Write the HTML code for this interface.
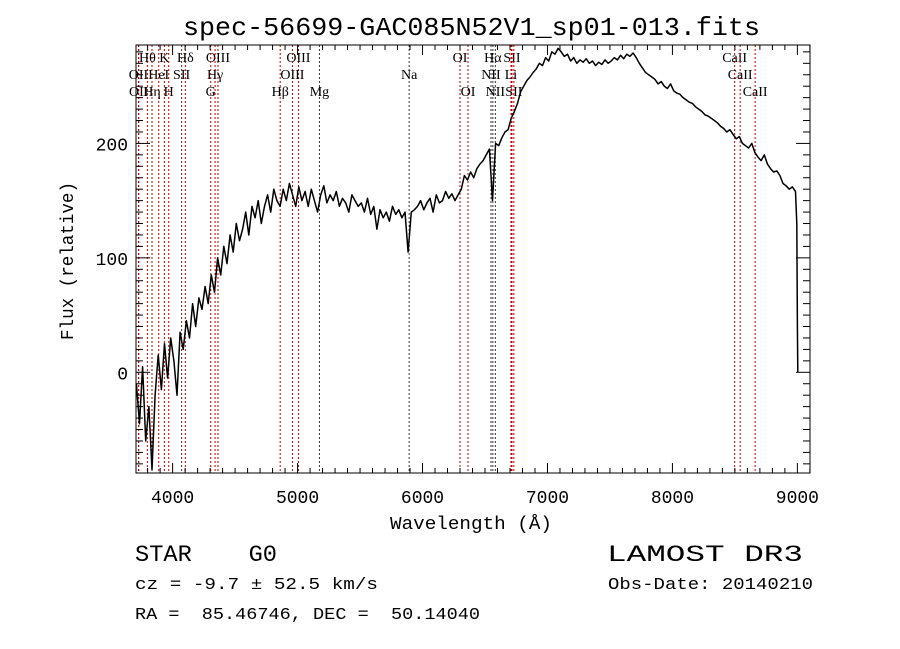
<!DOCTYPE html>
<html><head><meta charset="utf-8"><style>
html,body{margin:0;padding:0;background:#fff;}
svg{display:block;}
text{fill:#000;white-space:pre;}
</style></head><body>
<svg id="chart" width="900" height="649" viewBox="0 0 900 649" xmlns="http://www.w3.org/2000/svg" xml:space="preserve">
<rect x="0" y="0" width="900" height="649" fill="#fff"/>
<text x="183" y="35" font-family="Liberation Mono, monospace" font-size="26" textLength="577" lengthAdjust="spacingAndGlyphs">spec-56699-GAC085N52V1_sp01-013.fits</text>
<g id="lines"></g>
<g id="plot"></g>
<g id="axes"></g>
<text x="390" y="529" font-family="Liberation Mono, monospace" font-size="18" textLength="162" lengthAdjust="spacingAndGlyphs">Wavelength (Å)</text>
<text transform="translate(73,340) rotate(-90)" font-family="Liberation Mono, monospace" font-size="18" textLength="158" lengthAdjust="spacingAndGlyphs">Flux (relative)</text>
<text x="135" y="561" font-family="Liberation Mono, monospace" font-size="23" textLength="142" lengthAdjust="spacingAndGlyphs">STAR    G0</text>
<text x="607" y="561" font-family="Liberation Mono, monospace" font-size="23" textLength="196" lengthAdjust="spacingAndGlyphs">LAMOST DR3</text>
<text x="135" y="589" font-family="Liberation Mono, monospace" font-size="17" textLength="243" lengthAdjust="spacingAndGlyphs">cz = -9.7 ± 52.5 km/s</text>
<text x="608" y="589" font-family="Liberation Mono, monospace" font-size="17" textLength="205" lengthAdjust="spacingAndGlyphs">Obs-Date: 20140210</text>
<text x="135" y="619" font-family="Liberation Mono, monospace" font-size="17" textLength="345" lengthAdjust="spacingAndGlyphs">RA =  85.46746, DEC =  50.14040</text>
</svg>
<script>
// ---- data ----
const waveStart = 3710;
const waveStep = 25;
const flux = [
-10,-45,5,-60,-30,-85,-20,15,
-15,25,-5,30,10,-20,35,20,
45,30,60,40,65,55,75,60,
85,70,100,85,110,95,120,105,
130,115,125,140,120,145,135,150,
130,145,155,140,160,150,145,160,
150,165,155,145,162,150,158,145,
160,150,140,155,163,148,155,150,
158,145,152,148,140,155,150,145,
148,140,152,138,145,125,142,135,
140,132,145,138,142,135,140,105,
140,142,145,150,142,148,152,140,
155,148,150,158,152,156,150,155,
160,172,168,175,170,178,182,185,
190,195,150,200,198,205,210,212,
222,228,235,245,250,255,258,262,
265,270,268,275,272,280,278,283,
280,276,278,272,275,270,273,271,
274,270,272,268,271,269,273,270,
272,275,273,277,274,278,276,279,
275,270,266,262,260,258,256,252,
254,250,248,252,246,244,243,240,
238,236,235,232,230,228,225,224,
222,220,218,215,213,210,212,208,
204,206,200,198,196,200,192,188,
185,190,182,178,175,176,172,165,
163,160,162,158
];
const tailWaves = [8995, 9000, 9003];
const tailFlux = [130, 40, 0];
const xTicks = [4000, 5000, 6000, 7000, 8000, 9000];
const yTicks = [0, 100, 200];
const lineNames = ["H\u03b8","K","H\u03b4","OIII","OIII","OI","H\u03b1","SII","CaII",
                   "OII","HeI","SII","H\u03b3","OIII","Na","NII","Li","CaII",
                   "OII","H\u03b7","H","G","H\u03b2","Mg","OI","NII","SII","CaII"];
const lineWaves = [3798,3934,4102,4363,5007,6300,6563,6716,8498,
                   3727,3889,4072,4340,4959,5893,6548,6708,8542,
                   3729,3835,3969,4305,4861,5175,6364,6583,6731,8662];
const lineRows = [0,0,0,0,0,0,0,0,0, 1,1,1,1,1,1,1,1,1, 2,2,2,2,2,2,2,2,2,2];
const lineBlack = ["Na","Mg","NII","H\u03b1"];

// ---- scales ----
const X0=136, X1=810, Y0=45, Y1=473;
const WMIN=3707, WMAX=9101, FMIN=-88, FMAX=286;
const xs = w => X0 + (w-WMIN)/(WMAX-WMIN)*(X1-X0);
const ys = f => Y1 - (f-FMIN)/(FMAX-FMIN)*(Y1-Y0);
const NS="http://www.w3.org/2000/svg";
function mk(tag, attrs, parent){const e=document.createElementNS(NS,tag);for(const k in attrs)e.setAttribute(k,attrs[k]);parent.appendChild(e);return e;}

// ---- spectral lines ----
const gl=document.getElementById('lines');
lineWaves.forEach((w,i)=>{
  const x=xs(w);
  const black = lineBlack.includes(lineNames[i]) || (lineNames[i]==="SII" && w===4072);
  const l=mk('line',{x1:x,x2:x,y1:Y0,y2:Y1,stroke:black?'#333':'#c00000','stroke-width':1,'stroke-dasharray':'2,2'},gl);
  
  
  const t=mk('text',{x:x,y:62+lineRows[i]*17,'text-anchor':'middle','font-family':'Liberation Serif, serif','font-size':14},gl);
  t.textContent=lineNames[i];
  
  
});

// ---- spectrum ----
const gp=document.getElementById('plot');
let pts=[];
flux.forEach((f,i)=>{pts.push(xs(waveStart+i*waveStep).toFixed(1)+','+ys(f).toFixed(1));});
tailWaves.forEach((w,i)=>{pts.push(xs(w).toFixed(1)+','+ys(tailFlux[i]).toFixed(1));});
const pl=mk('polyline',{points:pts.join(' '),fill:'none',stroke:'#000','stroke-width':1.5,'stroke-linejoin':'round'},gp);



// ---- axes ----
const ga=document.getElementById('axes');
const fr=mk('rect',{x:X0,y:Y0,width:X1-X0,height:Y1-Y0,fill:'none',stroke:'#000','stroke-width':1},ga);


for(let w=3800; w<=9100; w+=100){
  const x=xs(w), major=(w%1000===0), L=major?10:5;
  mk('line',{x1:x,x2:x,y1:Y1,y2:Y1-L,stroke:'#000'},ga);
  mk('line',{x1:x,x2:x,y1:Y0,y2:Y0+L,stroke:'#000'},ga);
}
for(let f=-80; f<=280; f+=10){
  const y=ys(f), major=(f%100===0), L=major?14:7;
  mk('line',{x1:X0,x2:X0+L,y1:y,y2:y,stroke:'#000'},ga);
  mk('line',{x1:X1,x2:X1-L,y1:y,y2:y,stroke:'#000'},ga);
}
xTicks.forEach(w=>{
  const t=mk('text',{x:xs(w),y:503,'text-anchor':'middle','font-family':'Liberation Mono, monospace','font-size':18},ga);
  t.textContent=w;
  
  
});
yTicks.forEach(f=>{
  const t=mk('text',{x:128,y:ys(f)+7,'text-anchor':'end','font-family':'Liberation Mono, monospace','font-size':18},ga);
  t.textContent=f;
  
  
});
</script>
</body></html>
